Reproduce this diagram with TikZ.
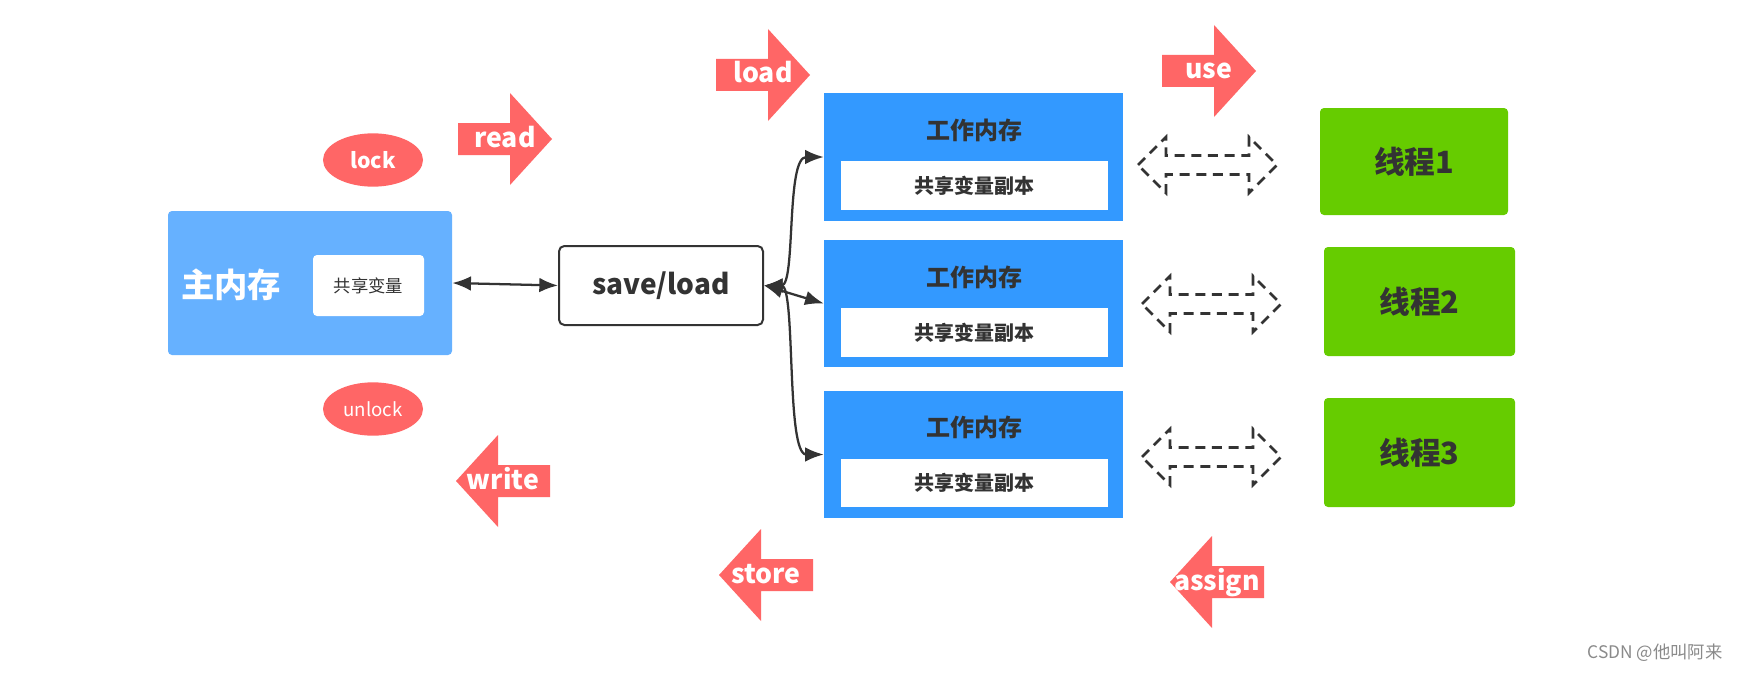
\documentclass[tikz,border=0pt]{standalone}
\usepackage{fontspec}
\setmainfont{Noto Sans CJK SC}
\usetikzlibrary{arrows.meta,fit,shapes.geometric}
\definecolor{redc}{HTML}{FF6666}
\definecolor{mainblue}{HTML}{66B1FF}
\definecolor{workblue}{HTML}{3399FF}
\definecolor{greenc}{HTML}{66CC00}
\definecolor{darkc}{HTML}{333333}
\definecolor{wmark}{HTML}{8A8A8A}
\begin{document}
\begin{tikzpicture}[x=0.75pt,y=-0.75pt,
  mainbox/.style={fill=mainblue, rounded corners=3pt, inner sep=0pt},
  innerwhite/.style={fill=white, rounded corners=3pt, inner sep=0pt},
  workbox/.style={fill=workblue, inner sep=0pt},
  whitebox/.style={fill=white, inner sep=0pt},
  greenbox/.style={fill=greenc, rounded corners=3pt, inner sep=0pt, text=darkc, font=\fontsize{23}{23}\selectfont\bfseries},
  savebox/.style={draw=darkc, line width=1.5pt, rounded corners=4pt, fill=white, inner sep=0pt, text=darkc, font=\fontsize{21}{21}\selectfont\bfseries},
  redell/.style={ellipse, fill=redc, inner sep=0pt, minimum width=75pt, minimum height=40pt, text=white},
  conn/.style={draw=darkc, line width=1.7pt, {Latex[length=14pt,width=11pt]}-{Latex[length=14pt,width=11pt]}},
  arrlbl/.style={text=white, font=\fontsize{20}{20}\selectfont\bfseries, inner sep=0pt, anchor=base},
  worktitle/.style={text=darkc, font=\fontsize{18}{18}\selectfont\bfseries, inner sep=0pt},
  worksub/.style={text=darkc, font=\fontsize{15}{15}\selectfont\bfseries, inner sep=0pt},
  dasharrow/.style={draw=darkc, line width=2pt, dash pattern=on 7.5pt off 5pt},
  rarrR/.pic={\fill[redc] (0,-16) -- (52,-16) -- (52,-46) -- (94,0) -- (52,46) -- (52,16) -- (0,16) -- cycle;},
  rarrL/.pic={\fill[redc] (94,-16) -- (42,-16) -- (42,-46) -- (0,0) -- (42,46) -- (42,16) -- (94,16) -- cycle;},
  dblarr/.pic={\draw[dasharrow] (0,0) -- (28,-28) -- (28,-9.5) -- (111,-9.5) -- (111,-28) -- (139,0) -- (111,28) -- (111,9.5) -- (28,9.5) -- (28,28) -- cycle;}
]
\fill[white] (0,0) rectangle (1745,674);
\useasboundingbox (0,0) rectangle (1745,674);

% main memory
\node[mainbox, fit={(168,211)(452,355)}] (main) {};
\node[innerwhite, fit={(313,255)(424,316)}] (mainvar) {};
\node[text=darkc, font=\fontsize{13}{13}\selectfont, inner sep=0pt] (mainvart) at (mainvar.center) {共享变量};
\node[text=white, font=\fontsize{25}{25}\selectfont\bfseries, inner sep=0pt] (maint) at (231,285) {主内存};

% lock / unlock
\node[redell, font=\fontsize{16}{16}\selectfont\bfseries] (lock) at (373,160) {lock};
\node[redell, font=\fontsize{14}{14}\selectfont] (unlock) at (373,409) {unlock};

% save/load
\node[savebox, fit={(559,246)(763,325)}] (save) {};
\node[text=darkc, font=\fontsize{21}{21}\selectfont\bfseries, inner sep=0pt] (savet) at (save.center) {save/load};

% working memories
\node[workbox, fit={(824,93)(1123,221)}] (w1) {};
\node[whitebox, fit={(841,161)(1108,210)}] (w1in) {};
\node[worktitle] (w1t) at (974,130) {工作内存};
\node[worksub] (w1s) at (w1in.center) {共享变量副本};

\node[workbox, fit={(824,240)(1123,367)}] (w2) {};
\node[whitebox, fit={(841,308)(1108,357)}] (w2in) {};
\node[worktitle] (w2t) at (974,277) {工作内存};
\node[worksub] (w2s) at (w2in.center) {共享变量副本};

\node[workbox, fit={(824,391)(1123,518)}] (w3) {};
\node[whitebox, fit={(841,459)(1108,507)}] (w3in) {};
\node[worktitle] (w3t) at (974,427) {工作内存};
\node[worksub] (w3s) at (w3in.center) {共享变量副本};

% threads
\node[greenbox, fit={(1320,108)(1508,215)}] (t1) {};
\node[greenbox, fill=none] (t1t) at (t1.center) {线程1};
\node[greenbox, fit={(1324,247)(1515,356)}] (t2) {};
\node[greenbox, fill=none] (t2t) at (t2.center) {线程2};
\node[greenbox, fit={(1324,398)(1515,507)}] (t3) {};
\node[greenbox, fill=none] (t3t) at (t3.center) {线程3};

% dashed double arrows
\pic at (1138,165) {dblarr};
\pic at (1142,304) {dblarr};
\pic at (1142,457) {dblarr};

% red operation arrows
\pic at (458,139) {rarrR};
\node[arrlbl] (read) at (505,147) {read};
\pic at (716,75) {rarrR};
\node[arrlbl] (load) at (763,83) {load};
\pic at (1162,71) {rarrR};
\node[arrlbl] (use) at (1209,79) {use};
\pic at (456,481) {rarrL};
\node[arrlbl] (write) at (503,489) {write};
\pic at (719,575) {rarrL};
\node[arrlbl] (store) at (766,583) {store};
\pic at (1170,582) {rarrL};
\node[arrlbl] (assign) at (1217,590) {assign};

% connectors
\draw[conn] (main.east) -- (save.west);
\draw[conn] (save.east) .. controls +(32,0) and +(-38,0) .. (w1.west);
\draw[conn] (save.east) -- (w2.west);
\draw[conn] (save.east) .. controls +(32,0) and +(-38,0) .. (w3.west);

% watermark
\node[text=wmark, font=\fontsize{13}{13}\selectfont, inner sep=0pt] (wm) at (1655,653) {CSDN @他叫阿来};
\end{tikzpicture}
\end{document}
